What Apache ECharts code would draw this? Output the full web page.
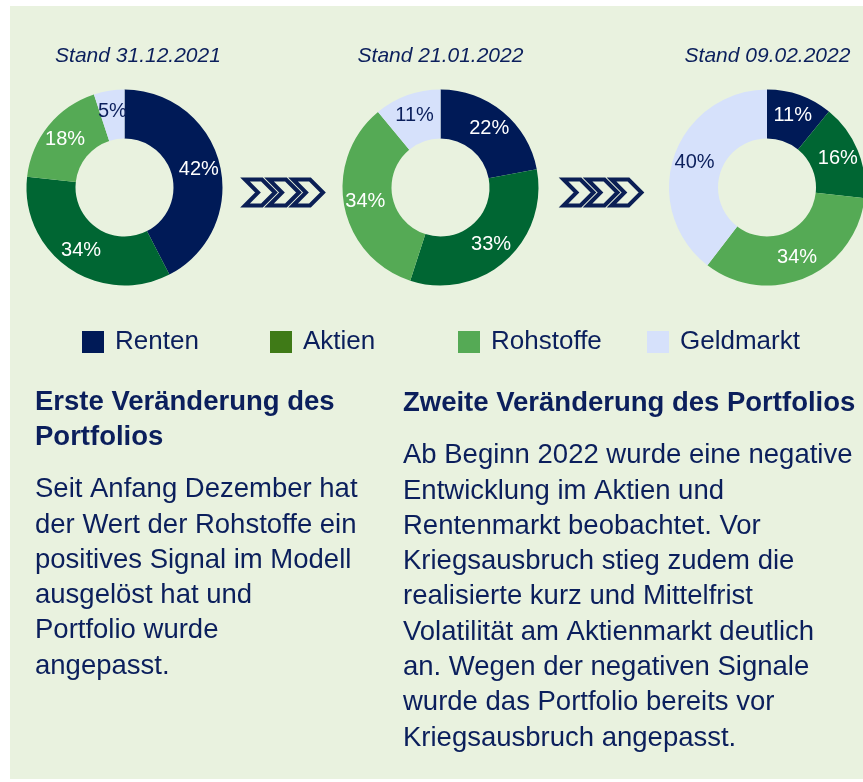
<!DOCTYPE html>
<html>
<head>
<meta charset="utf-8">
<script src="https://cdn.jsdelivr.net/npm/echarts@6/dist/echarts.min.js"></script>
<style>
  html, body { margin: 0; padding: 0; background: #ffffff; }
  #chart { width: 863px; height: 782px; }
</style>
</head>
<body>
<div id="chart"></div>
<script>
// ---- Data ----
const categories = ['Renten', 'Aktien', 'Rohstoffe', 'Geldmarkt'];
const snapshotTitles = ['Stand 31.12.2021', 'Stand 21.01.2022', 'Stand 09.02.2022'];
const values20211231 = [42, 34, 18, 5];
const values20220121 = [22, 33, 34, 11];
const values20220209 = [11, 16, 34, 40];

const leftHeading = ['Erste Veränderung des', 'Portfolios'];
const leftBody = [
  'Seit Anfang Dezember hat',
  'der Wert der Rohstoffe ein',
  'positives Signal im Modell',
  'ausgelöst hat und',
  'Portfolio wurde',
  'angepasst.'
];
const rightHeading = ['Zweite Veränderung des Portfolios'];
const rightBody = [
  'Ab Beginn 2022 wurde eine negative',
  'Entwicklung im Aktien und',
  'Rentenmarkt beobachtet. Vor',
  'Kriegsausbruch stieg zudem die',
  'realisierte kurz und Mittelfrist',
  'Volatilität am Aktienmarkt deutlich',
  'an. Wegen der negativen Signale',
  'wurde das Portfolio bereits vor',
  'Kriegsausbruch angepasst.'
];

// ---- Styles / layout ----
const NAVY = '#0b1f5c';
const BG = '#e9f2df';
const pieColors = ['#001a57', '#006633', '#55aa55', '#d6e1fb'];
const legendColors = ['#001a57', '#3f7a17', '#55aa55', '#d6e1fb'];
const labelColors = ['#ffffff', '#ffffff', '#ffffff', '#0b1f5c'];
const FONT = '"Liberation Sans", Arial, sans-serif';

const pieCenters = [[124.5, 187.5], [440.5, 187.5], [767, 187.5]];
const titleX = [138, 440.5, 767.5];
const legendLeft = [77, 265, 453, 642];
const allValues = [values20211231, values20220121, values20220209];

const chart = echarts.init(document.getElementById('chart'), null, { renderer: 'canvas', width: 863, height: 782 });

function chevrons(x0, y0) {
  const w = 34, h = 30, step = 24, i = 2;
  const els = [];
  for (let k = 0; k < 3; k++) {
    const x = x0 + k * step;
    els.push({
      type: 'polygon',
      z: 5,
      shape: { points: [[x + i, y0 + i], [x + w - h / 2, y0 + i], [x + w - i, y0 + h / 2], [x + w - h / 2, y0 + h - i], [x + i, y0 + h - i], [x + h / 2, y0 + h / 2]] },
      style: { fill: BG, stroke: '#0b1f55', lineWidth: 4, lineJoin: 'miter' }
    });
  }
  return els;
}

function textBlock(lines, x, top, size, weight, lh) {
  return {
    type: 'text', z: 5, x: x, y: top,
    style: {
      text: lines.join('\n'),
      font: weight + ' ' + size + 'px ' + FONT,
      fill: NAVY,
      lineHeight: lh,
      textAlign: 'left',
      textVerticalAlign: 'top'
    }
  };
}

const graphics = [
  { type: 'rect', z: -100, shape: { x: 10, y: 6, width: 860, height: 773 }, style: { fill: BG } }
];
snapshotTitles.forEach((t, i) => {
  graphics.push({
    type: 'text', z: 5, x: titleX[i], y: 56,
    style: { text: t, font: 'italic 21px ' + FONT, fill: NAVY, textAlign: 'center', textVerticalAlign: 'middle' }
  });
});
graphics.push(...chevrons(243, 177.5));
graphics.push(...chevrons(561.5, 177.5));
graphics.push(textBlock(leftHeading, 35, 385, 27.5, 'bold', 35));
graphics.push(textBlock(rightHeading, 403, 386, 27.5, 'bold', 35));
graphics.push(textBlock(leftBody, 35, 472, 27.5, 'normal', 35.3));
graphics.push(textBlock(rightBody, 403, 438, 27.5, 'normal', 35.3));

const series = allValues.map((vals, s) => ({
  type: 'pie',
  center: pieCenters[s],
  radius: [49, 98],
  startAngle: 90,
  clockwise: true,
  avoidLabelOverlap: false,
  silent: true,
  emphasis: { disabled: true },
  labelLine: { show: false },
  itemStyle: { borderWidth: 0 },
  label: {
    show: true, position: 'inside', formatter: '{c}%',
    fontSize: 20, fontFamily: FONT
  },
  data: categories.map((n, i) => ({
    name: n, value: vals[i],
    itemStyle: { color: pieColors[i] },
    label: { color: labelColors[i] }
  }))
}));

const legends = categories.map((n, i) => ({
  left: legendLeft[i], top: 324,
  icon: 'rect', itemWidth: 22, itemHeight: 22, itemGap: 0,
  selectedMode: false,
  textStyle: { fontSize: 26, color: NAVY, fontFamily: FONT, padding: [0, 0, 0, 6] },
  data: [{ name: n, itemStyle: { color: legendColors[i] } }]
}));

chart.setOption({
  animation: false,
  backgroundColor: 'transparent',
  legend: legends,
  graphic: { elements: graphics },
  series: series
});
</script>
</body>
</html>
